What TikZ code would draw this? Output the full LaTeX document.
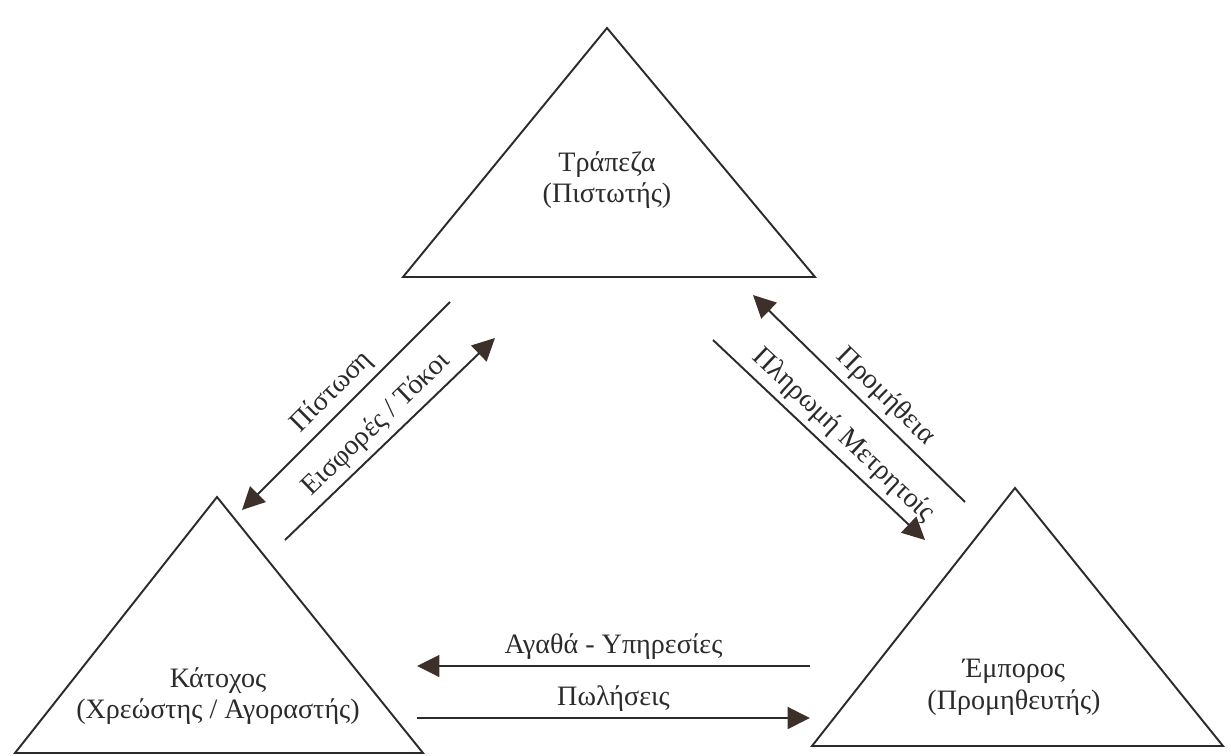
\documentclass[tikz,border=0pt]{standalone}
\usepackage{fontspec}
\setmainfont{Liberation Serif}
\usetikzlibrary{arrows.meta}
\definecolor{inkgray}{HTML}{2B2B2B}
\definecolor{tipbrown}{HTML}{3D302B}

\begin{document}
\begin{tikzpicture}[x=0.02cm, y=0.02cm,
  party/.style={draw=inkgray, line width=1.1pt, line join=miter},
  partytext/.style={align=center, text=inkgray, font=\fontsize{16}{18}\selectfont},
  flow/.style={draw=inkgray, line width=1.1pt,
    -{Triangle[length=0.45cm, width=0.44cm, color=tipbrown, fill=tipbrown]}},
  flowlabel/.style={sloped, above, text=inkgray, font=\fontsize{16}{18}\selectfont}]

  \useasboundingbox (0,0) rectangle (1231,755);

  % the three parties
  \coordinate (bank-top) at (607,727);
  \coordinate (bank-left) at (403,478);
  \coordinate (bank-right) at (815,478);
  \draw[party] (bank-top) -- (bank-left) -- (bank-right) -- cycle;
  \node[partytext] (bank) at (607,575) {Τράπεζα\\(Πιστωτής)};

  \coordinate (holder-top) at (217,258);
  \coordinate (holder-left) at (15,2);
  \coordinate (holder-right) at (423,2);
  \draw[party] (holder-top) -- (holder-left) -- (holder-right) -- cycle;
  \node[partytext] (holder) at (218,59) {Κάτοχος\\(Χρεώστης / Αγοραστής)};

  \coordinate (merchant-top) at (1015,267);
  \coordinate (merchant-left) at (812,9);
  \coordinate (merchant-right) at (1223,9);
  \draw[party] (merchant-top) -- (merchant-left) -- (merchant-right) -- cycle;
  \node[partytext] (merchant) at (1014,68) {Έμπορος\\(Προμηθευτής)};

  % bank - holder
  \coordinate (credit-from) at (450,453);
  \coordinate (credit-to) at (242,245);
  \coordinate (interest-from) at (285,215);
  \coordinate (interest-to) at (495,417);
  \draw[flow] (credit-from) -- node[flowlabel]{Πίστωση} (credit-to);
  \draw[flow] (interest-from) -- node[flowlabel]{Εισφορές / Τόκοι} (interest-to);

  % bank - merchant
  \coordinate (fee-from) at (965,253);
  \coordinate (fee-to) at (753,460);
  \coordinate (cash-from) at (713,415);
  \coordinate (cash-to) at (925,215);
  \draw[flow] (fee-from) -- node[flowlabel, pos=0.44]{Προμήθεια} (fee-to);
  \draw[flow] (cash-from) -- node[flowlabel, pos=0.55]{Πληρωμή Μετρητοίς} (cash-to);

  % merchant - holder
  \coordinate (goods-from) at (810,89);
  \coordinate (goods-to) at (417,89);
  \coordinate (sales-from) at (417,37);
  \coordinate (sales-to) at (810,37);
  \draw[flow] (goods-from) -- node[flowlabel]{Αγαθά - Υπηρεσίες} (goods-to);
  \draw[flow] (sales-from) -- node[flowlabel]{Πωλήσεις} (sales-to);
\end{tikzpicture}
\end{document}
